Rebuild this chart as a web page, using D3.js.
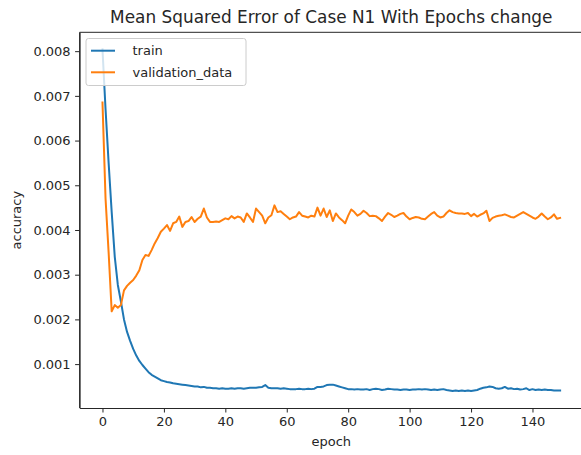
<!DOCTYPE html>
<html>
<head>
<meta charset="utf-8">
<script src="https://cdn.jsdelivr.net/npm/d3@7"></script>
<style>
  body { margin: 0; background: #fff; }
  svg { display: block; }
  text { font-family: "DejaVu Sans", sans-serif; fill: #262626; }
  .axis path, .axis line { stroke: #262626; }
</style>
</head>
<body>
<script>
// chart data
var titleText = "Mean Squared Error of Case N1 With Epochs change";
var seriesNames = ["train", "validation_data"];
var seriesColors = ["#1f77b4", "#ff7f0e"];
var xTicks = [0, 20, 40, 60, 80, 100, 120, 140];
var yTicks = [0.001, 0.002, 0.003, 0.004, 0.005, 0.006, 0.007, 0.008];

// mean squared error on training data, one value per epoch (0..149)
var trainValues = [
  0.00804, 0.0067, 0.0055, 0.0044, 0.0034, 0.00277, 0.0024, 0.002, 0.00172, 0.00152,
  0.00134, 0.00119, 0.00107, 0.00098, 0.0009, 0.00082, 0.00076, 0.00072, 0.00068, 0.00064,
  0.00062, 0.0006, 0.00059, 0.00057, 0.00056, 0.00055, 0.00054, 0.00053, 0.00052, 0.00051,
  0.0005, 0.0005, 0.00048, 0.00049, 0.00047, 0.00047, 0.00046, 0.00046, 0.00045, 0.00046,
  0.00045, 0.00045, 0.00046, 0.00045, 0.00046, 0.00046, 0.00045, 0.00046, 0.00047, 0.00047,
  0.00047, 0.00048, 0.00049, 0.00053, 0.00047, 0.00046, 0.00046, 0.00046, 0.00045, 0.00046,
  0.00045, 0.00044, 0.00044, 0.00044, 0.00045, 0.00044, 0.00044, 0.00045, 0.00044, 0.00045,
  0.00049, 0.00049, 0.0005, 0.00053, 0.00054, 0.00054, 0.00052, 0.0005, 0.00048, 0.00046,
  0.00044, 0.00044, 0.00043, 0.00044, 0.00043, 0.00043, 0.00044, 0.00042, 0.00044, 0.00045,
  0.00044, 0.00042, 0.00043, 0.00045, 0.00044, 0.00043, 0.00043, 0.00042, 0.00043, 0.00043,
  0.00042, 0.00043, 0.00043, 0.00044, 0.00043, 0.00044, 0.00043, 0.00042, 0.00043, 0.00042,
  0.00043, 0.00044, 0.00042, 0.00041, 0.0004, 0.00041, 0.0004, 0.00041, 0.0004, 0.00041,
  0.0004, 0.00041, 0.00042, 0.00045, 0.00047, 0.00048, 0.0005, 0.00049, 0.00046, 0.00045,
  0.00046, 0.00049, 0.00045, 0.00046, 0.00044, 0.00045, 0.00043, 0.00044, 0.00046, 0.00042,
  0.00044, 0.00042, 0.00043, 0.00042, 0.00043, 0.00042, 0.00042, 0.00041, 0.00041, 0.00041
];

// mean squared error on validation data, one value per epoch (0..149)
var validationValues = [
  0.00685, 0.0047, 0.0035, 0.00218, 0.00232, 0.00226, 0.00232, 0.00265, 0.00275, 0.00282,
  0.00288, 0.00298, 0.0031, 0.00333, 0.00344, 0.00342, 0.00355, 0.0037, 0.00382, 0.00396,
  0.00403, 0.00411, 0.00398, 0.00415, 0.00418, 0.0043, 0.00407, 0.00418, 0.0042, 0.00429,
  0.00418, 0.00425, 0.0043, 0.00448, 0.00428, 0.00418, 0.00418, 0.00419, 0.00418, 0.00422,
  0.00426, 0.00424, 0.00431, 0.00426, 0.0043, 0.00428, 0.00418, 0.00437, 0.00428, 0.00418,
  0.00448, 0.0044, 0.00432, 0.00415, 0.00428, 0.00433, 0.00455, 0.0044, 0.00442, 0.00436,
  0.0043, 0.00424, 0.00428, 0.0043, 0.0044, 0.00432, 0.0043, 0.00428, 0.00432, 0.0043,
  0.0045, 0.00432, 0.00448, 0.00429, 0.00444, 0.0042, 0.00437, 0.00428, 0.00422, 0.00415,
  0.00432, 0.00446, 0.0044, 0.00432, 0.00436, 0.00443, 0.00438, 0.00431, 0.00432, 0.00431,
  0.00426, 0.0042, 0.0043, 0.00438, 0.00434, 0.00429, 0.00432, 0.00436, 0.00438, 0.0043,
  0.00424, 0.00427, 0.00429, 0.00428, 0.00425, 0.00424, 0.0043, 0.00436, 0.0044, 0.00432,
  0.00428, 0.0043, 0.00438, 0.00444, 0.0044, 0.00438, 0.00437, 0.00437, 0.00436, 0.00438,
  0.00431, 0.00436, 0.0043, 0.00434, 0.00437, 0.00443, 0.0042, 0.00427, 0.0043, 0.00432,
  0.00433, 0.00435, 0.00432, 0.00429, 0.00428, 0.00432, 0.00436, 0.0044, 0.00436, 0.00432,
  0.00428, 0.00425, 0.0043, 0.00437, 0.0043, 0.00424, 0.00428, 0.00435, 0.00425, 0.00427
];

(function(){
  var width = 581,
      height = 455;

  // axes box (right spine falls just outside the picture)
  var plot = {left: 79.6, top: 32.3, right: 583, bottom: 408};

  var svg = d3.select("body")
    .append("svg")
    .attr("width", width)
    .attr("height", height);

  var series = [trainValues, validationValues];

  // matplotlib style 5% margins around the data
  var nPts = trainValues.length;
  var xMin = 0, xMax = nPts - 1;
  var xPad = (xMax - xMin) * 0.05;
  var allVals = trainValues.concat(validationValues);
  var yLo = d3.min(allVals), yHi = d3.max(allVals);
  var yPad = (yHi - yLo) * 0.05;

  var x = d3.scaleLinear()
    .domain([xMin - xPad, xMax + xPad])
    .range([plot.left, plot.right]);

  var y = d3.scaleLinear()
    .domain([yLo - yPad, yHi + yPad])
    .range([plot.bottom, plot.top]);

  // lines
  var line = d3.line()
    .x(function(d, i){ return x(i); })
    .y(function(d){ return y(d); });

  svg.selectAll(".series")
    .data(series)
    .enter()
    .append("path")
    .attr("class", "series")
    .attr("d", line)
    .attr("fill", "none")
    .attr("stroke", function(d, i){ return seriesColors[i]; })
    .attr("stroke-width", 2)
    .attr("stroke-linejoin", "round")
    .attr("stroke-linecap", "square");

  // spines
  var frame = svg.append("g");
  frame.append("line")
    .attr("x1", plot.left).attr("x2", plot.left)
    .attr("y1", plot.top).attr("y2", plot.bottom);
  frame.append("line")
    .attr("x1", plot.left).attr("x2", plot.right)
    .attr("y1", plot.top).attr("y2", plot.top);
  frame.append("line")
    .attr("x1", plot.right).attr("x2", plot.right)
    .attr("y1", plot.top).attr("y2", plot.bottom);
  frame.selectAll("line")
    .attr("stroke", "#262626")
    .attr("stroke-width", 1);

  // x axis
  var xAxis = svg.append("g")
    .attr("class", "axis")
    .attr("transform", "translate(0," + plot.bottom + ")")
    .call(d3.axisBottom(x).tickValues(xTicks).tickSize(4.5).tickPadding(4.5).tickSizeOuter(0));
  xAxis.select(".domain").attr("stroke-width", 1);
  xAxis.selectAll("text")
    .attr("font-size", "13px")
    .attr("font-family", "DejaVu Sans, sans-serif")
    .attr("fill", "#262626");

  // y axis
  var yAxis = svg.append("g")
    .attr("class", "axis")
    .attr("transform", "translate(" + plot.left + ",0)")
    .call(d3.axisLeft(y).tickValues(yTicks).tickFormat(d3.format(".3f")).tickSize(4.5).tickPadding(4.5).tickSizeOuter(0));
  yAxis.select(".domain").attr("stroke-width", 1);
  yAxis.selectAll("text")
    .attr("font-size", "13px")
    .attr("font-family", "DejaVu Sans, sans-serif")
    .attr("fill", "#262626");

  // title
  svg.append("text")
    .attr("x", (plot.left + plot.right) / 2)
    .attr("y", 22.5)
    .attr("text-anchor", "middle")
    .attr("font-size", "16.9px")
    .text(titleText);

  // axis labels
  svg.append("text")
    .attr("x", (plot.left + plot.right) / 2)
    .attr("y", 446)
    .attr("text-anchor", "middle")
    .attr("font-size", "13px")
    .text("epoch");

  svg.append("text")
    .attr("transform", "translate(20.5," + ((plot.top + plot.bottom) / 2) + ") rotate(-90)")
    .attr("text-anchor", "middle")
    .attr("font-size", "13px")
    .text("accuracy");

  // legend
  var legend = svg.append("g")
    .attr("transform", "translate(86,38.5)");

  legend.append("rect")
    .attr("width", 160)
    .attr("height", 47)
    .attr("rx", 2.5)
    .attr("fill", "#fff")
    .attr("fill-opacity", 0.8)
    .attr("stroke", "#cccccc")
    .attr("stroke-width", 1);

  var items = legend.selectAll(".item")
    .data(seriesNames)
    .enter()
    .append("g")
    .attr("class", "item")
    .attr("transform", function(d, i){ return "translate(0," + (12.2 + i * 21.6) + ")"; });

  items.append("line")
    .attr("x1", 5).attr("x2", 29)
    .attr("stroke", function(d, i){ return seriesColors[i]; })
    .attr("stroke-width", 2);

  items.append("text")
    .attr("x", 46.5)
    .attr("dy", "0.35em")
    .attr("font-size", "13px")
    .text(function(d){ return d; });
})();
</script>
</body>
</html>
